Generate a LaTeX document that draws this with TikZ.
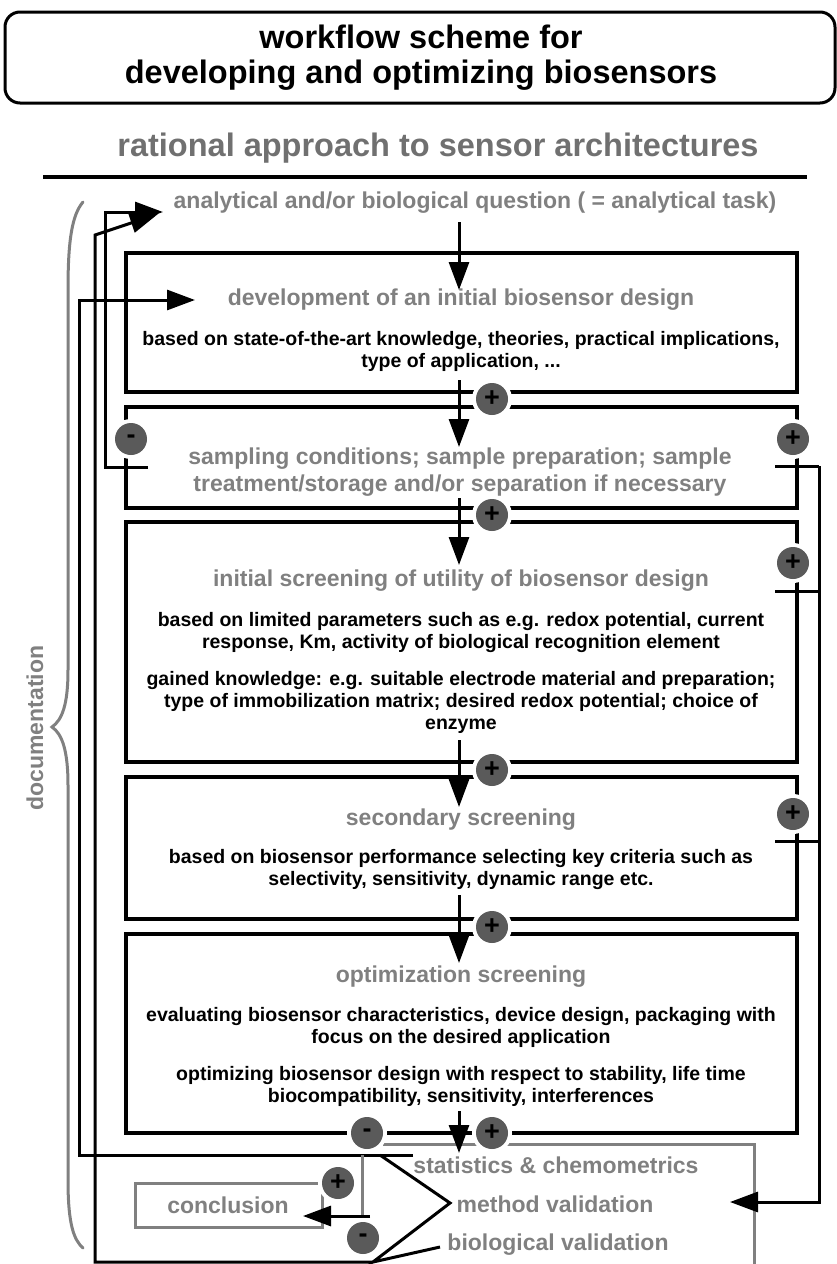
\documentclass[tikz,border=0pt]{standalone}
\usepackage{fontspec}
\setmainfont{Liberation Sans}
\usetikzlibrary{arrows.meta}
\definecolor{tgray}{HTML}{808080}
\definecolor{sgray}{HTML}{707070}
\definecolor{cdark}{HTML}{5A5A5A}
\tikzset{
  boxline/.style={line width=3.5pt, line join=miter, line cap=rect},
  ln/.style={line width=3pt, line join=miter},
  flow/.style={line width=3pt, -{Triangle[length=28pt,width=20pt]}},
  glin/.style={line width=3pt, draw=tgray},
  circ/.style={circle, inner sep=0pt, minimum size=32pt, fill=cdark,
    preaction={draw=white, line width=8pt},
    font=\bfseries\fontsize{27}{27}\selectfont, text=black},
  head/.style={inner sep=0pt, text=tgray, align=center,
    font=\bfseries\fontsize{23}{27}\selectfont},
  body/.style={inner sep=0pt, align=center,
    font=\bfseries\fontsize{19.5}{22}\selectfont},
}
\begin{document}
\begin{tikzpicture}[x=1pt,y=-1pt]
\useasboundingbox (0,0) rectangle (837,1264);

% title
\draw[line width=3pt, rounded corners=15pt] (5,12) rectangle (835,103);
\node[inner sep=0pt, align=center, font=\bfseries\fontsize{32.5}{35}\selectfont] (title) at (421,58)
  {workflow scheme for\\developing and optimizing biosensors};
\node[inner sep=0pt, text=sgray, font=\bfseries\fontsize{32.5}{35}\selectfont] (sub) at (438,148)
  {rational approach to sensor architectures};
\coordinate (ruleL) at (43,177);
\coordinate (ruleR) at (807,177);
\draw[line width=3.5pt] (ruleL) -- (ruleR);

% boxes
\draw[boxline] (126,253) rectangle (797,392);
\draw[boxline] (126,407) rectangle (797,508);
\draw[boxline] (126,522) rectangle (797,762);
\draw[boxline] (126,777) rectangle (797,919);
\draw[boxline] (126,934) rectangle (797,1133);
\draw[glin] (383,1144) -- (754,1144) -- (754,1270);
\draw[glin] (135,1183) rectangle (322,1227);

% texts
\node[head] (q) at (475,203) {analytical and/or biological question ( = analytical task)};
\node[head] (h1) at (461,300) {development of an initial biosensor design};
\node[body] (b1) at (461,351) {based on state-of-the-art knowledge, theories, practical implications,\\type of application, ...};
\node[head] (h2) at (460,472) {sampling conditions; sample preparation; sample\\treatment/storage and/or separation if necessary};
\node[head] (h3) at (461,581) {initial screening of utility of biosensor design};
\node[body] (b3a) at (461,632) {based on limited parameters such as e.g. redox potential, current\\response, Km, activity of biological recognition element};
\node[body] (b3b) at (461,702) {gained knowledge: e.g. suitable electrode material and preparation;\\type of immobilization matrix; desired redox potential; choice of\\enzyme};
\node[head] (h4) at (461,820) {secondary screening};
\node[body] (b4) at (461,869) {based on biosensor performance selecting key criteria such as\\selectivity, sensitivity, dynamic range etc.};
\node[head] (h5) at (461,977) {optimization screening};
\node[body] (b5a) at (461,1027) {evaluating biosensor characteristics, device design, packaging with\\focus on the desired application};
\node[body] (b5b) at (461,1086) {optimizing biosensor design with respect to stability, life time\\biocompatibility, sensitivity, interferences};
\node[head] (st) at (556,1165) {statistics \& chemometrics};
\node[head] (mv) at (555,1204) {method validation};
\node[head] (bv) at (558,1245) {biological validation};
\node[head] (concl) at (228,1205) {conclusion};
\node[head, rotate=90] (doc) at (35,728) {documentation};

% central flow
\coordinate (c0) at (459,222);  \coordinate (c0e) at (459,290);
\coordinate (c1) at (459,380);  \coordinate (c1e) at (459,447);
\coordinate (c2) at (459,498);  \coordinate (c2e) at (459,565);
\coordinate (c3) at (459,740);  \coordinate (c3e) at (459,807);
\coordinate (c4) at (459,895);  \coordinate (c4e) at (459,963);
\coordinate (c5) at (459,1111); \coordinate (c5e) at (459,1153);
\draw[flow] (c0) -- (c0e);
\draw[flow] (c1) -- (c1e);
\draw[flow] (c2) -- (c2e);
\draw[flow] (c3) -- (c3e);
\draw[flow] (c4) -- (c4e);
\draw[flow] (c5) -- (c5e);

% left feedback lines
\coordinate (qa) at (163,212);
\coordinate (qb) at (158,214);
\coordinate (da) at (195,300);
\draw[flow] (148,467) -- (105,467) -- (105,212) -- (qa);
\draw[flow] (373,1262) -- (95,1262) -- (95,235) -- (qb);
\draw[flow] (413,1155) -- (79,1155) -- (79,300) -- (da);

% right feedback lines
\coordinate (mva) at (730,1202);
\draw[ln] (775,466) -- (819,466);
\draw[ln] (775,591) -- (819,591);
\draw[ln] (775,841) -- (819,841);
\draw[flow] (819,466) -- (819,1202) -- (mva);

% validation bracket and conclusion
\draw[ln] (380,1155) -- (450,1203) -- (373,1262) -- (440,1247);
\draw[glin] (362,1155) -- (362,1216);
\coordinate (ca) at (303,1216);
\draw[flow] (370,1216) -- (ca);

% brace
\draw[glin, line cap=round] (83,202) .. controls (72,215) and (68,240) .. (68,290)
  -- (68,670) .. controls (68,705) and (62,720) .. (52,727)
  .. controls (62,734) and (68,750) .. (68,785)
  -- (68,1180) .. controls (68,1225) and (74,1240) .. (83,1248);

% plus / minus circles
\node[circ] (p1) at (492,399) {+};
\node[circ] (p2) at (492,515) {+};
\node[circ] (p3) at (492,770) {+};
\node[circ] (p4) at (492,927) {+};
\node[circ] (p5) at (492,1133) {+};
\node[circ] (m1) at (131,439) {-};
\node[circ] (r1) at (793,439) {+};
\node[circ] (r2) at (793,563) {+};
\node[circ] (r3) at (793,814) {+};
\node[circ] (m2) at (367,1133) {-};
\node[circ] (p6) at (338,1183) {+};
\node[circ] (m3) at (363,1238) {-};
\end{tikzpicture}
\end{document}
